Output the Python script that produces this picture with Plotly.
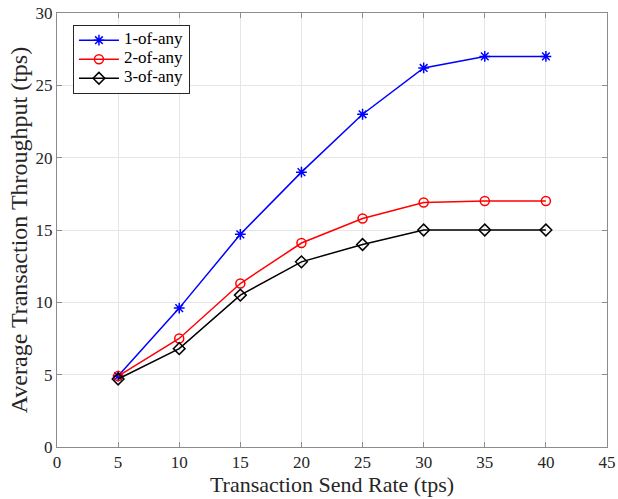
import plotly.graph_objects as go

send_rate = [5, 10, 15, 20, 25, 30, 35, 40]
one_of_any = [4.9, 9.6, 14.7, 19.0, 23.0, 26.2, 27.0, 27.0]
two_of_any = [4.9, 7.5, 11.3, 14.1, 15.8, 16.9, 17.0, 17.0]
three_of_any = [4.7, 6.8, 10.5, 12.8, 14.0, 15.0, 15.0, 15.0]
series_names = ["1-of-any", "2-of-any", "3-of-any"]
x_ticks = [0, 5, 10, 15, 20, 25, 30, 35, 40, 45]
y_ticks = [0, 5, 10, 15, 20, 25, 30]

font_family = "Liberation Serif, Times New Roman, serif"


def legend_label(name):
    return "<span style='font-size:17px'>" + name + "</span>"


fig = go.Figure()
fig.add_trace(go.Scatter(x=send_rate, y=one_of_any, name=legend_label(series_names[0]), mode="lines+markers",
                         line=dict(color="#0000ff", width=1.5),
                         marker=dict(symbol="asterisk-open", size=9, line=dict(color="#0000ff", width=1.5))))
fig.add_trace(go.Scatter(x=send_rate, y=two_of_any, name=legend_label(series_names[1]), mode="lines+markers",
                         line=dict(color="#ff0000", width=1.5),
                         marker=dict(symbol="circle-open", size=9, color="#ff0000", line=dict(color="#ff0000", width=1.5))))
fig.add_trace(go.Scatter(x=send_rate, y=three_of_any, name=legend_label(series_names[2]), mode="lines+markers",
                         line=dict(color="#000000", width=1.5),
                         marker=dict(symbol="diamond-open", size=9, color="#000000", line=dict(color="#000000", width=1.5))))

axis_common = dict(showgrid=True, gridcolor="#e6e6e6", gridwidth=1, zeroline=False,
                   showline=True, linecolor="#8c8c8c", linewidth=1, mirror="ticks",
                   ticks="inside", ticklen=5, tickcolor="#8c8c8c", automargin=False,
                   ticklabeloverflow="allow",
                   tickfont=dict(family=font_family, size=17, color="#262626"))

fig.update_layout(
    width=618, height=499,
    margin=dict(l=57, r=11, t=13, b=52),
    paper_bgcolor="white", plot_bgcolor="white",
    font=dict(family=font_family, color="#262626"),
    xaxis=dict(range=[0, 45], tickvals=x_ticks, **axis_common,
               title=dict(text="Transaction Send Rate (tps)", font=dict(family=font_family, size=22, color="#262626"), standoff=3)),
    yaxis=dict(range=[0, 30], tickvals=y_ticks, **axis_common,
               title=dict(text="Average Transaction Throughput (tps)", font=dict(family=font_family, size=24, color="#262626"), standoff=1)),
    legend=dict(x=0.029, y=0.973, xanchor="left", yanchor="top",
                bgcolor="white", bordercolor="#262626", borderwidth=1,
                font=dict(family=font_family, size=10, color="#000000"),
                tracegroupgap=0, itemwidth=40),
    showlegend=True,
)

fig.write_html("out.html", config={"displayModeBar": False},
               post_script="document.body.style.margin='0';")
